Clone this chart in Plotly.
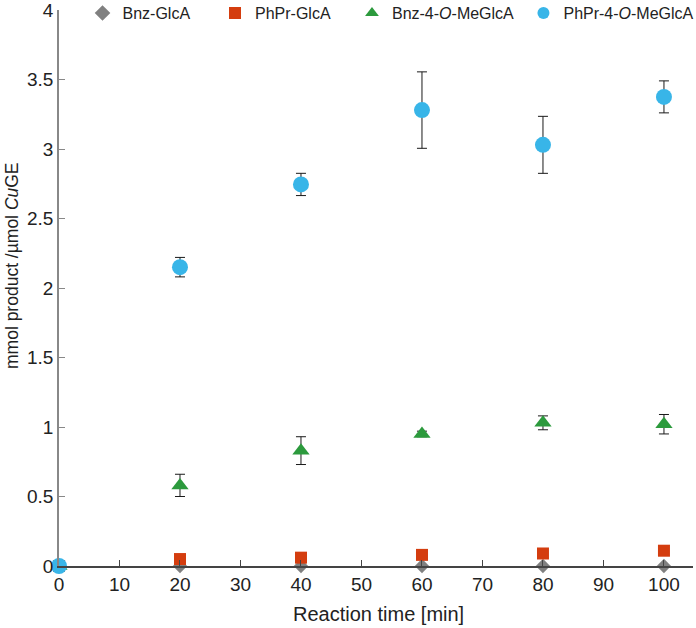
import plotly.graph_objects as go

times = [0, 20, 40, 60, 80, 100]

bnz_glca = [0, 0, 0, 0, 0, 0]
bnz_glca_err = [0, 0, 0, 0, 0, 0]

phpr_glca = [0, 0.05, 0.06, 0.08, 0.09, 0.11]
phpr_glca_err = [0, 0.01, 0.015, 0.006, 0.006, 0.006]

bnz_me = [0, 0.58, 0.83, 0.95, 1.03, 1.02]
bnz_me_err = [0, 0.08, 0.10, 0.02, 0.05, 0.07]

phpr_me = [0, 2.15, 2.745, 3.28, 3.03, 3.375]
phpr_me_err = [0, 0.07, 0.08, 0.275, 0.205, 0.115]

x_ticks = [0, 10, 20, 30, 40, 50, 60, 70, 80, 90, 100]
y_ticks = [0, 0.5, 1, 1.5, 2, 2.5, 3, 3.5, 4]
y_tick_labels = ["0", "0.5", "1", "1.5", "2", "2.5", "3", "3.5", "4"]

names = ["Bnz-GlcA", "PhPr-GlcA", "Bnz-4-<i>O</i>-MeGlcA", "PhPr-4-<i>O</i>-MeGlcA"]
series = [bnz_glca, phpr_glca, bnz_me, phpr_me]
errors = [bnz_glca_err, phpr_glca_err, bnz_me_err, phpr_me_err]
colors = ["#808080", "#d43d0f", "#2c9a3d", "#38b5e8"]
symbols = ["diamond", "square", "triangle-up", "circle"]
sizes = [11, 12, 15, 16]
legend_ids = ["legend", "legend2", "legend3", "legend4"]
legend_x = [0.0371, 0.2461, 0.4621, 0.7326]

font_family = "Liberation Sans, Arial, sans-serif"

fig = go.Figure()
for name, ys, es, c, s, sz, lg in zip(names, series, errors, colors, symbols, sizes, legend_ids):
    fig.add_trace(go.Scatter(
        x=times, y=ys, name=name, mode="markers",
        marker=dict(color=c, symbol=s, size=sz, line=dict(width=0)),
        error_y=dict(type="data", array=es, visible=True, color="#1a1a1a", thickness=1, width=5),
        cliponaxis=False, legend=lg,
    ))

layout_legends = {}
for lg, lx in zip(legend_ids, legend_x):
    layout_legends[lg] = dict(
        x=lx, y=1.025, xanchor="left", yanchor="top", orientation="h",
        bgcolor="rgba(0,0,0,0)", font=dict(size=16, family=font_family, color="#222222"),
        itemwidth=30, itemsizing="constant",
    )

fig.update_layout(
    width=696, height=628,
    margin=dict(l=59, r=3, t=10, b=62, autoexpand=False),
    plot_bgcolor="white", paper_bgcolor="white",
    font=dict(family=font_family, size=19, color="#222222"),
    showlegend=True,
    xaxis=dict(
        range=[0, 104.8], tickvals=x_ticks,
        ticks="inside", ticklen=6, tickcolor="#444444", tickwidth=1,
        showline=True, linecolor="#444444", linewidth=1.5,
        showgrid=False, zeroline=False, automargin=False,
        tickfont=dict(size=19), ticklabeloverflow="allow",
    ),
    yaxis=dict(
        range=[0, 4], tickvals=y_ticks, ticktext=y_tick_labels,
        ticks="inside", ticklen=6, tickcolor="#888888", tickwidth=1,
        showline=True, linecolor="#888888", linewidth=1.5,
        showgrid=False, zeroline=False, automargin=False,
        tickfont=dict(size=19), ticklabeloverflow="allow",
    ),
    annotations=[
        dict(text="Reaction time [min]", xref="paper", yref="paper",
             x=0.5047, y=-0.0863, xanchor="center", yanchor="middle",
             showarrow=False, font=dict(size=20, family=font_family, color="#222222")),
        dict(text="mmol product /µmol <i>Cu</i>GE", xref="paper", yref="paper",
             x=-0.0741, y=0.5396, xanchor="center", yanchor="middle", textangle=-90,
             showarrow=False, font=dict(size=17.5, family=font_family, color="#222222")),
    ],
    **layout_legends,
)

fig.write_html(
    "out.html",
    config={"displayModeBar": False},
    post_script="document.body.style.margin='0px';document.body.style.overflow='hidden';",
)
